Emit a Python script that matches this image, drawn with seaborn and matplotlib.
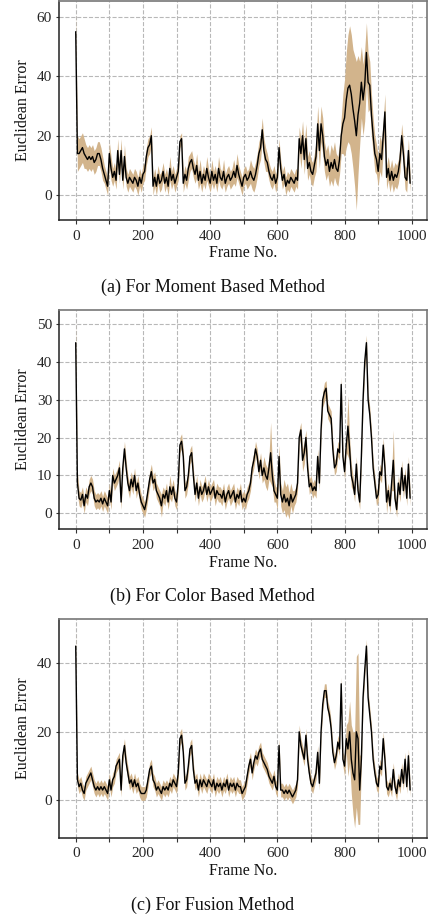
import numpy as np
import pandas as pd
import matplotlib
matplotlib.use("Agg")
import matplotlib.pyplot as plt
import seaborn as sns
from matplotlib.ticker import MultipleLocator

# frame numbers, one reading every 5 frames
frames = np.arange(0, 1000, 5)

# (a) moment based method: mean error and band half-width
moment_mean = [
    55, 14, 14, 15, 16, 14, 13, 12, 13, 12,
    13, 11, 12, 14, 14, 12, 9, 7, 5, 3,
    14, 9, 6, 8, 5, 15, 7, 15, 5, 13,
    6, 4, 6, 5, 4, 6, 5, 3, 6, 4,
    7, 8, 13, 16, 17, 20, 3, 6, 3, 7,
    4, 5, 8, 4, 6, 3, 9, 5, 7, 4,
    6, 8, 18, 19, 4, 7, 5, 9, 11, 12,
    9, 7, 10, 5, 8, 4, 7, 5, 9, 6,
    4, 8, 5, 7, 4, 9, 6, 5, 8, 4,
    6, 7, 5, 6, 8, 6, 10, 7, 5, 3,
    6, 7, 5, 6, 8, 6, 5, 7, 10, 14,
    16, 22, 15, 12, 11, 8, 6, 5, 7, 4,
    6, 16, 9, 5, 7, 3, 5, 4, 6, 5,
    4, 6, 5, 19, 14, 20, 12, 19, 9, 11,
    8, 7, 10, 13, 24, 15, 24, 20, 13, 10,
    12, 8, 11, 9, 12, 9, 8, 12, 20, 24,
    26, 32, 36, 37, 34, 29, 25, 20, 27, 31,
    38, 32, 37, 48, 38, 37, 27, 20, 14, 12,
    8, 14, 12, 20, 28, 6, 9, 5, 8, 5,
    7, 6, 8, 12, 20, 14, 6, 5, 15, 4,
]
moment_spread = [
    7, 6, 5, 5, 5, 5, 4, 4, 4, 4,
    4, 4, 4, 4, 4, 4, 4, 3, 3, 3,
    4, 4, 3, 3, 3, 4, 3, 4, 3, 4,
    3, 3, 3, 3, 3, 3, 3, 3, 3, 3,
    3, 3, 3, 3, 3, 3, 3, 3, 3, 3,
    3, 3, 3, 3, 3, 3, 4, 3, 3, 3,
    3, 3, 2, 2, 3, 3, 3, 4, 3, 3,
    3, 3, 4, 3, 4, 3, 3, 3, 4, 3,
    3, 4, 3, 3, 3, 4, 3, 3, 4, 3,
    3, 3, 3, 3, 4, 3, 4, 3, 3, 3,
    3, 3, 3, 3, 4, 4, 4, 4, 4, 4,
    4, 4, 4, 4, 3, 3, 3, 3, 3, 3,
    3, 3, 3, 3, 3, 3, 3, 3, 3, 3,
    3, 3, 3, 4, 5, 5, 5, 5, 4, 4,
    4, 4, 4, 5, 6, 6, 6, 6, 5, 5,
    5, 5, 6, 6, 6, 5, 5, 5, 6, 10,
    13, 16, 18, 20, 20, 20, 22, 25, 20, 14,
    12, 12, 12, 10, 10, 8, 7, 6, 6, 5,
    5, 6, 6, 5, 6, 4, 4, 4, 4, 4,
    4, 4, 4, 4, 4, 4, 4, 4, 4, 3,
]

# (b) color based method
color_mean = [
    45, 8, 4, 3.5, 5, 2, 5, 4, 7, 8,
    7, 4, 3, 3.5, 3, 4, 2.5, 4, 3, 2,
    6, 3, 10, 8, 9, 10, 12, 3, 12, 17,
    12, 8, 6, 9, 7, 10, 6, 8, 5, 3,
    2, 1, 3, 6, 9, 11, 8, 9, 6, 5,
    4, 2, 5, 4, 6, 3, 7, 5, 7, 4,
    3, 8, 18, 19, 15, 6, 7, 10, 15, 16,
    10, 5, 8, 4, 7, 5, 6, 8, 5, 7,
    5, 6, 7, 4, 6, 5, 5, 4, 6, 3,
    5, 6, 4, 5, 6, 3, 5, 4, 6, 3,
    4, 3, 5, 6, 8, 12, 14, 17, 15, 11,
    14, 10, 12, 10, 9, 12, 16, 10, 6, 5,
    4, 15, 5, 3, 5, 3, 4, 2, 5, 3,
    4, 5, 8, 20, 22, 14, 16, 20, 12, 7,
    8, 6, 7, 6, 15, 8, 22, 30, 32, 33,
    27, 26, 25, 17, 12, 13, 17, 16, 34, 15,
    11, 18, 23, 17, 10, 8, 5, 13, 6, 3,
    15, 30, 40, 45, 30, 26, 20, 12, 8, 4,
    5, 11, 10, 18, 12, 3, 6, 2, 8, 14,
    4, 1, 8, 5, 12, 6, 10, 4, 13, 4,
]
color_spread = [
    6, 3, 2, 2, 2, 2, 2, 2, 2, 2,
    2, 2, 2, 2, 2, 2, 2, 2, 2, 2,
    2, 2, 2, 2, 2, 2, 2, 2, 2, 2,
    2, 2, 2, 2, 2, 2, 2, 2, 2, 2,
    2, 2, 2, 2, 2, 2, 2, 2, 2, 2,
    2, 3, 2, 2, 2, 2, 3, 2, 2, 2,
    2, 2, 2, 2, 2, 2, 2, 2, 2, 2,
    2, 2, 2, 2, 2, 2, 2, 2, 2, 2,
    2, 2, 2, 2, 2, 2, 2, 2, 2, 2,
    2, 2, 2, 2, 2, 2, 2, 2, 2, 2,
    2, 2, 2, 2, 2, 2, 2, 2, 2, 2,
    2, 2, 3, 3, 3, 3, 8, 3, 3, 2,
    3, 3, 3, 3, 4, 4, 4, 3.5, 3, 3,
    2, 2, 2, 2, 2, 3, 3, 2, 2, 2,
    2, 2, 2, 2, 2, 2, 2, 2, 2.5, 2,
    2, 2, 2, 2, 2, 2, 2, 2, 2, 2,
    2, 2, 8, 3, 3, 2, 2, 2, 2, 2,
    2, 2, 2, 2, 2, 2, 2, 2, 2, 2,
    2, 2, 2, 2, 2, 3, 2, 2, 2, 8,
    2, 2, 2, 2, 2, 2, 2, 2, 2, 2,
]

# (c) fusion method
fusion_mean = [
    45, 6, 4, 5, 3, 2, 5, 6, 7, 8,
    6, 4, 3, 4, 3, 4, 3, 4, 3, 2,
    6, 3, 6, 7, 10, 11, 12, 3, 13, 16,
    11, 8, 5, 6, 4, 6, 4, 5, 3, 2,
    2, 2, 3, 6, 9, 10, 6, 5, 3, 4,
    3, 2, 4, 3, 4, 3, 5, 4, 6, 5,
    4, 8, 18, 19, 14, 5, 6, 10, 15, 16,
    9, 5, 6, 3, 6, 4, 6, 5, 4, 6,
    5, 4, 6, 3, 5, 4, 5, 3, 5, 4,
    6, 3, 5, 4, 5, 3, 5, 4, 4, 2,
    3, 4, 7, 10, 12, 8, 11, 13, 12, 14,
    15, 12, 11, 10, 9, 7, 6, 5, 7, 4,
    3, 16, 3, 3, 2, 3, 2, 3, 2, 1,
    2, 3, 6, 20, 16, 14, 12, 19, 12, 8,
    5, 4, 6, 8, 14, 5, 20, 28, 32, 32,
    27, 25, 21, 14, 11, 13, 17, 15, 34, 12,
    10, 18, 15, 20, 12, 8, 6, 20, 18, 3,
    12, 30, 38, 45, 30, 25, 20, 12, 8, 5,
    4, 10, 9, 18, 12, 4, 3, 5, 3, 9,
    4, 2, 6, 4, 9, 5, 12, 4, 13, 3,
]
fusion_spread = [
    5, 2, 2, 2, 2, 2, 2, 2, 2, 2,
    2, 2, 2, 2, 2, 2, 2, 2, 2, 2,
    2, 2, 2, 2, 2, 2, 2, 2, 2, 2,
    2, 2, 2, 2, 2, 2, 2, 2, 2, 2,
    2, 2, 2, 2, 2, 2, 2, 2, 2, 2,
    2, 2, 2, 2, 2, 2, 2, 2, 2, 2,
    2, 2, 2, 2, 2, 2, 2, 2, 2, 2,
    2, 2, 2, 2, 2, 2, 2, 2, 2, 2,
    2, 2, 2, 2, 2, 2, 2, 2, 2, 2,
    2, 2, 2, 2, 2, 2, 2, 2, 2, 2,
    2, 2, 2, 2, 2, 2, 2, 2, 2, 2,
    2, 2, 2, 2, 2, 2, 2, 2, 2, 2,
    2, 2, 2, 2, 2, 2, 2, 2, 2, 2,
    2, 2, 2, 2, 2, 2, 2, 2, 2, 2,
    2, 2, 2, 2, 2, 2, 2, 2, 2, 2,
    2, 2, 2, 2, 2, 2, 2, 2, 2, 2,
    3, 4, 8, 9, 10, 12, 14, 22, 25, 10,
    2, 2, 2, 2, 2, 2, 2, 2, 2, 2,
    2, 2, 2, 2, 2, 2, 2, 2, 2, 2,
    2, 2, 2, 2, 2, 2, 2, 2, 2, 2,
]

captions = ["(a) For Moment Based Method",
            "(b) For Color Based Method",
            "(c) For Fusion Method"]
y_steps = [20, 10, 20]

panels = [(moment_mean, moment_spread),
          (color_mean, color_spread),
          (fusion_mean, fusion_spread)]

sns.set_theme(style="whitegrid")
plt.rcParams["font.family"] = ["Liberation Serif", "DejaVu Serif"]

fig = plt.figure(figsize=(4.32, 9.22), dpi=100)
# axes boxes in figure fractions: left, bottom, width, height
boxes = [[0.1366, 0.7614, 0.8514, 0.2376],
         [0.1366, 0.4262, 0.8514, 0.2376],
         [0.1366, 0.0914, 0.8514, 0.2372]]
caption_y = [0.6884, 0.3528, 0.0177]

for i, (mean, spread) in enumerate(panels):
    df = pd.DataFrame({"frame": frames, "mean": mean, "spread": spread})
    ax = fig.add_axes(boxes[i])
    ax.set_facecolor("white")
    ax.fill_between(df["frame"], df["mean"] - df["spread"], df["mean"] + df["spread"],
                    color="#d2b48c", lw=0, zorder=2)
    sns.lineplot(data=df, x="frame", y="mean", ax=ax, color="black", lw=1.0, zorder=3)

    ax.xaxis.set_major_locator(MultipleLocator(200))
    ax.xaxis.set_minor_locator(MultipleLocator(100))
    ax.yaxis.set_major_locator(MultipleLocator(y_steps[i]))
    ax.grid(False)
    ax.grid(True, which="both", axis="x", ls="--", color="#b8b8b8", lw=0.8)
    ax.grid(True, which="major", axis="y", ls="--", color="#b8b8b8", lw=0.8)
    ax.set_axisbelow(True)

    ax.tick_params(axis="x", which="both", bottom=True, direction="out",
                   length=3, width=0.8, color="#333333", labelsize=11, pad=4)
    ax.tick_params(axis="y", which="major", left=True, direction="out",
                   length=2, width=0.8, color="#333333", labelsize=11, pad=3)
    for side in ["left", "bottom"]:
        ax.spines[side].set_color("#222222")
        ax.spines[side].set_linewidth(1.1)
    for side in ["top", "right"]:
        ax.spines[side].set_color("#777777")
        ax.spines[side].set_linewidth(1.2)

    ax.set_xlabel("Frame No.", fontsize=11.5, color="#111111", labelpad=2)
    ax.set_ylabel("Euclidean Error", fontsize=11.5, color="#111111")
    ax.yaxis.set_label_coords(-0.075, 0.5)

    fig.text(0.492, caption_y[i], captions[i], ha="center", va="center",
             fontsize=13, color="#111111")

fig.savefig("out.png", dpi=100)
